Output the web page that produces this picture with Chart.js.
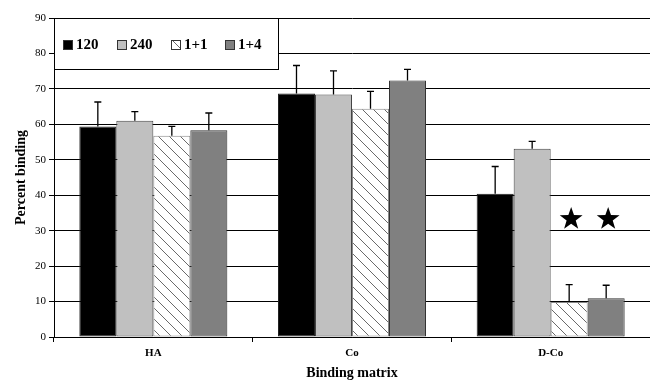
<!DOCTYPE html>
<html>
<head>
<meta charset="utf-8">
<script src="https://cdn.jsdelivr.net/npm/chart.js@4.4.1/dist/chart.umd.min.js"></script>
<style>
  html, body { margin: 0; padding: 0; background: #fff; overflow: hidden; }
  #wrap { position: relative; width: 650px; height: 382px; }
</style>
</head>
<body>
<div id="wrap"><canvas id="chart" width="650" height="382"></canvas></div>
<script>
/* ── DATA ─────────────────────────────────────────────── */
const categories = ['HA', 'Co', 'D-Co'];
const seriesNames = ['120', '240', '1+1', '1+4'];

const vals120 = [59.4, 68.7, 40.4];
const vals240 = [61.0, 68.4, 53.1];
const vals1p1 = [56.8, 64.4, 9.9];
const vals1p4 = [58.3, 72.4, 10.9];

const err120 = [6.9, 7.9, 7.7];
const err240 = [2.6, 6.7, 2.1];
const err1p1 = [2.6, 4.9, 4.9];
const err1p4 = [4.9, 3.1, 3.7];

const yTicks = [0, 10, 20, 30, 40, 50, 60, 70, 80, 90];

// significance stars: drawn over these series in this category
const starCategory = 'D-Co';
const starSeries = ['1+1', '1+4'];
const starLevel = 33.3;

/* ── HATCH PATTERN ────────────────────────────────────── */
function makeHatch() {
  const c = document.createElement('canvas');
  c.width = 11; c.height = 11;
  const g = c.getContext('2d');
  g.fillStyle = '#fff';
  g.fillRect(0, 0, 11, 11);
  g.strokeStyle = '#6a6a6a';
  g.lineWidth = 1;
  g.beginPath();
  g.moveTo(-1, -1); g.lineTo(12, 12);
  g.moveTo(-12, -1); g.lineTo(1, 12);
  g.moveTo(10, -1); g.lineTo(23, 12);
  g.stroke();
  const ctx = document.getElementById('chart').getContext('2d');
  return ctx.createPattern(c, 'repeat');
}
const hatch = makeHatch();

const SERIF = "'Liberation Serif', 'Times New Roman', serif";

/* ── PLUGINS ──────────────────────────────────────────── */
const errorBars = {
  id: 'errorBars',
  afterDatasetsDraw(chart) {
    const { ctx, scales: { y } } = chart;
    ctx.save();
    ctx.strokeStyle = '#000';
    ctx.lineWidth = 1.3;
    chart.data.datasets.forEach((ds, i) => {
      const meta = chart.getDatasetMeta(i);
      meta.data.forEach((bar, j) => {
        const top = y.getPixelForValue(ds.data[j]);
        const end = y.getPixelForValue(ds.data[j] + ds.errUp[j]);
        ctx.beginPath();
        ctx.moveTo(bar.x, top);
        ctx.lineTo(bar.x, end);
        ctx.moveTo(bar.x - 3.5, end);
        ctx.lineTo(bar.x + 3.5, end);
        ctx.stroke();
      });
    });
    ctx.restore();
  }
};

function drawStar(ctx, cx, cy, rOut, rIn) {
  ctx.beginPath();
  for (let k = 0; k < 10; k++) {
    const r = k % 2 === 0 ? rOut : rIn;
    const a = -Math.PI / 2 + k * Math.PI / 5;
    const px = cx + r * Math.cos(a), py = cy + r * Math.sin(a);
    k === 0 ? ctx.moveTo(px, py) : ctx.lineTo(px, py);
  }
  ctx.closePath();
  ctx.fill();
}

const stars = {
  id: 'stars',
  afterDatasetsDraw(chart) {
    const { ctx, scales: { y } } = chart;
    const ci = categories.indexOf(starCategory);
    ctx.save();
    ctx.fillStyle = '#000';
    starSeries.forEach(name => {
      const di = chart.data.datasets.findIndex(d => d.label === name);
      const bar = chart.getDatasetMeta(di).data[ci];
      drawStar(ctx, bar.x + 2, y.getPixelForValue(starLevel), 12, 4.8);
    });
    ctx.restore();
  }
};

const boxLegend = {
  id: 'boxLegend',
  afterDraw(chart) {
    const { ctx, chartArea } = chart;
    const x0 = chartArea.left, y0 = chartArea.top;
    ctx.save();
    ctx.fillStyle = '#fff';
    ctx.fillRect(x0, y0, 224, 51);
    ctx.strokeStyle = '#000';
    ctx.lineWidth = 1;
    ctx.strokeRect(x0 + 0.5, y0 + 0.5, 224, 51);
    ctx.font = 'bold 15px ' + SERIF;
    ctx.textBaseline = 'middle';
    chart.data.datasets.forEach((ds, i) => {
      const sx = x0 + 9 + i * 54, sy = y0 + 22;
      ctx.fillStyle = ds.backgroundColor;
      ctx.fillRect(sx, sy, 10, 10);
      ctx.strokeStyle = '#333';
      ctx.strokeRect(sx + 0.5, sy + 0.5, 9, 9);
      ctx.fillStyle = '#000';
      ctx.fillText(ds.label, sx + 13, sy + 5.5);
    });
    ctx.restore();
  }
};

/* ── CHART ────────────────────────────────────────────── */
const fills = ['#000000', '#c0c0c0', hatch, '#808080'];
const borders = ['#222', '#444', '#888', '#333'];
const values = [vals120, vals240, vals1p1, vals1p4];
const errors = [err120, err240, err1p1, err1p4];

new Chart(document.getElementById('chart'), {
  type: 'bar',
  data: {
    labels: categories,
    datasets: seriesNames.map((name, i) => ({
      label: name,
      data: values[i],
      errUp: errors[i],
      backgroundColor: fills[i],
      borderColor: borders[i],
      borderWidth: 1,
      borderSkipped: false,
      categoryPercentage: 0.745,
      barPercentage: 1.0
    }))
  },
  options: {
    responsive: false,
    animation: false,
    layout: { padding: { top: 18, right: 0, left: 0, bottom: 0 } },
    plugins: {
      legend: { display: false },
      tooltip: { enabled: false }
    },
    scales: {
      x: {
        afterFit: s => { s.height = 45; },
        grid: {
          drawOnChartArea: false,
          drawTicks: true,
          tickLength: 5,
          color: '#000',
          offset: true
        },
        border: { color: '#000', width: 1 },
        ticks: {
          color: '#000',
          padding: 5,
          font: { family: SERIF, size: 11, weight: 'bold' }
        },
        title: {
          display: true,
          text: 'Binding matrix',
          color: '#000',
          padding: { top: 0, bottom: 0 },
          font: { family: SERIF, size: 14, weight: 'bold' }
        }
      },
      y: {
        min: 0,
        max: 90,
        afterFit: s => { s.width = 54; },
        afterBuildTicks: s => { s.ticks = yTicks.map(v => ({ value: v })); },
        grid: {
          color: '#000',
          lineWidth: 1,
          tickLength: 5
        },
        border: { color: '#000', width: 1 },
        ticks: {
          color: '#000',
          padding: 3,
          font: { family: SERIF, size: 11 }
        },
        title: {
          display: true,
          text: 'Percent binding',
          color: '#000',
          padding: { top: 13, bottom: 0 },
          font: { family: SERIF, size: 14, weight: 'bold' }
        }
      }
    }
  },
  plugins: [errorBars, stars, boxLegend]
});
</script>
</body>
</html>
